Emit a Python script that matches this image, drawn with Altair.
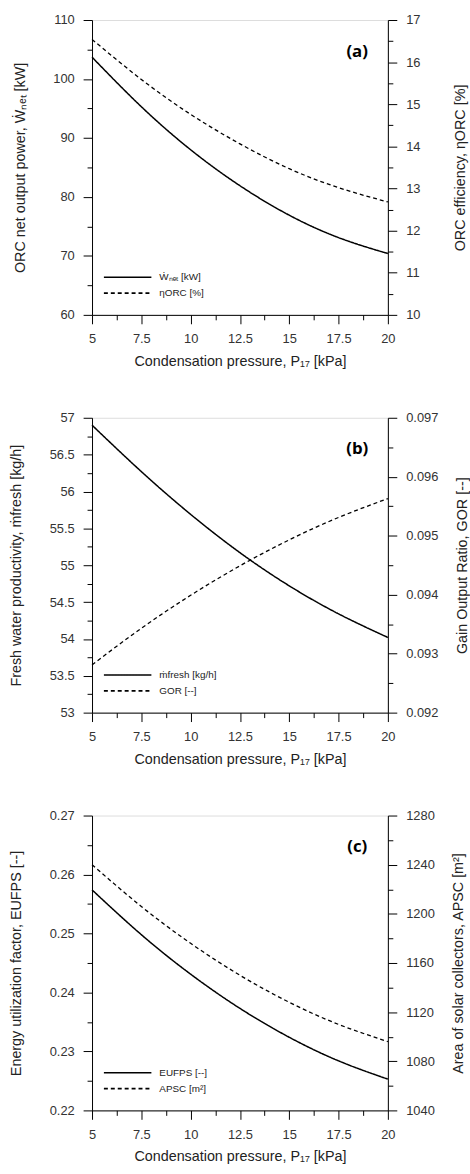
import altair as alt
import pandas as pd

# ---------------- data ----------------
pressure = [5, 7.5, 10, 12.5, 15, 17.5, 20]

w_net = [103.7, 95.3, 88.0, 81.9, 76.9, 73.1, 70.4]
eta_orc = [16.54, 15.59, 14.76, 14.06, 13.47, 13.02, 12.68]

m_fresh = [56.90, 56.27, 55.69, 55.17, 54.72, 54.34, 54.02]
gor = [0.09281, 0.09343, 0.09399, 0.09449, 0.09493, 0.09531, 0.09563]

euf = [0.2574, 0.2498, 0.2431, 0.2373, 0.2324, 0.2284, 0.2253]
a_psc = [1240, 1206, 1176, 1150, 1128, 1110, 1096]

x_ticks = [5, 6.25, 7.5, 8.75, 10, 11.25, 12.5, 13.75, 15, 16.25, 17.5, 18.75, 20]

W, H = 299, 298
FONT = "Liberation Sans"
X_TITLE = "Condensation pressure, P\u2081\u2087 [kPa]"


def ticks(lo, hi, step):
    n = int(round((hi - lo) / step))
    return [round(lo + i * step, 6) for i in range(n + 1)]


def major_test(major):
    return f"abs(datum.value / {major} - round(datum.value / {major})) < 1e-6"


def axis(values, major, title, orient, title_pad, extra=None):
    t = major_test(major)
    kw = dict(
        values=values,
        title=title,
        orient=orient,
        grid=False,
        domainColor="black",
        domainWidth=1,
        tickColor="black",
        tickWidth=1,
        tickSize={"condition": {"test": t, "value": 9}, "value": 5},
        labelExpr=f"({t}) ? format(datum.value, '~g') : ''",
        labelFont=FONT,
        labelFontSize=13,
        labelColor="#333333",
        labelPadding=9,
        labelFlush=False,
        labelOverlap=False,
        titleFont=FONT,
        titleFontSize=14.5,
        titleFontWeight="normal",
        titleColor="#222222",
        titlePadding=title_pad,
    )
    if extra:
        kw.update(extra)
    return alt.Axis(**kw)


def panel(tag, left_vals, left_major, left_title, left_dom, left_series,
          right_vals, right_major, right_title, right_dom, right_series,
          labels, left_title_pad, right_title_pad):
    field = "s_" + tag
    df_l = pd.DataFrame({"x": pressure, "y": left_series, field: labels[0]})
    df_r = pd.DataFrame({"x": pressure, "y": right_series, field: labels[1]})

    xenc = alt.X(
        "x:Q",
        scale=alt.Scale(domain=[5, 20], nice=False, zero=False),
        axis=axis(x_ticks, 2.5, X_TITLE, "bottom", 9),
    )
    dash = alt.StrokeDash(
        f"{field}:N",
        scale=alt.Scale(domain=labels, range=[[1, 0], [4, 3]]),
        legend=alt.Legend(
            title=None,
            orient="none",
            legendX=29,
            legendY=253,
            direction="vertical",
            symbolType="M-4,0H4",
            symbolSize=144,
            symbolStrokeColor="black",
            symbolStrokeWidth=1.6,
            symbolFillColor="transparent",
            labelFont=FONT,
            labelFontSize=10,
            labelColor="#222222",
            labelOffset=25,
            rowPadding=4,
            padding=0,
        ),
    )
    left = alt.Chart(df_l).mark_line(color="black", strokeWidth=1.5, interpolate="natural").encode(
        x=xenc,
        y=alt.Y(
            "y:Q",
            scale=alt.Scale(domain=left_dom, nice=False, zero=False),
            axis=axis(left_vals, left_major, left_title, "left", left_title_pad,
                      {"titleAngle": 270}),
        ),
        strokeDash=dash,
    )
    right = alt.Chart(df_r).mark_line(color="black", strokeWidth=1.3, interpolate="natural").encode(
        x=xenc,
        y=alt.Y(
            "y:Q",
            scale=alt.Scale(domain=right_dom, nice=False, zero=False),
            axis=axis(right_vals, right_major, right_title, "right", right_title_pad,
                      {"titleAngle": 270}),
        ),
        strokeDash=dash,
    )
    tag_text = alt.Chart(pd.DataFrame({"t": [f"({tag})"]})).mark_text(
        font="Open Sans", fontSize=17, fontWeight="bold", color="black"
    ).encode(text="t:N", x=alt.value(268), y=alt.value(32))
    return alt.layer(left, right, tag_text).resolve_scale(y="independent").properties(
        width=W, height=H
    )


pa = panel(
    "a",
    ticks(60, 110, 5), 10, "ORC net output power, \u1E86\u2099\u2091\u209C [kW]", [60, 110], w_net,
    ticks(10, 17, 0.5), 1, "ORC efficiency, \u03B7ORC [%]", [10, 17], eta_orc,
    ["\u1E86\u2099\u2091\u209C [kW]", "\u03B7ORC [%]"], 26, 48,
)
pb = panel(
    "b",
    ticks(53, 57, 0.25), 0.5, "Fresh water productivity, \u1E41fresh [kg/h]", [53, 57], m_fresh,
    ticks(0.092, 0.097, 0.0005), 0.001, "Gain Output Ratio, GOR [--]", [0.092, 0.097], gor,
    ["\u1E41fresh [kg/h]", "GOR [--]"], 26, 32,
)
pc = panel(
    "c",
    ticks(0.22, 0.27, 0.005), 0.01, "Energy utilization factor, EUFPS [--]", [0.22, 0.27], euf,
    ticks(1040, 1280, 20), 40, "Area of solar collectors, APSC [m\u00B2]", [1040, 1280], a_psc,
    ["EUFPS [--]", "APSC [m\u00B2]"], 26, 32,
)

chart = (
    alt.vconcat(pa, pb, pc, spacing=104, bounds="flush")
    .resolve_scale(strokeDash="independent")
    .resolve_legend(strokeDash="independent")
    .properties(padding={"left": 8, "top": 7, "right": 0, "bottom": 0})
    .configure_view(stroke="black", strokeWidth=1)
    .configure(background="white")
)

chart.save("out.html", embed_options={"renderer": "svg", "actions": False})
